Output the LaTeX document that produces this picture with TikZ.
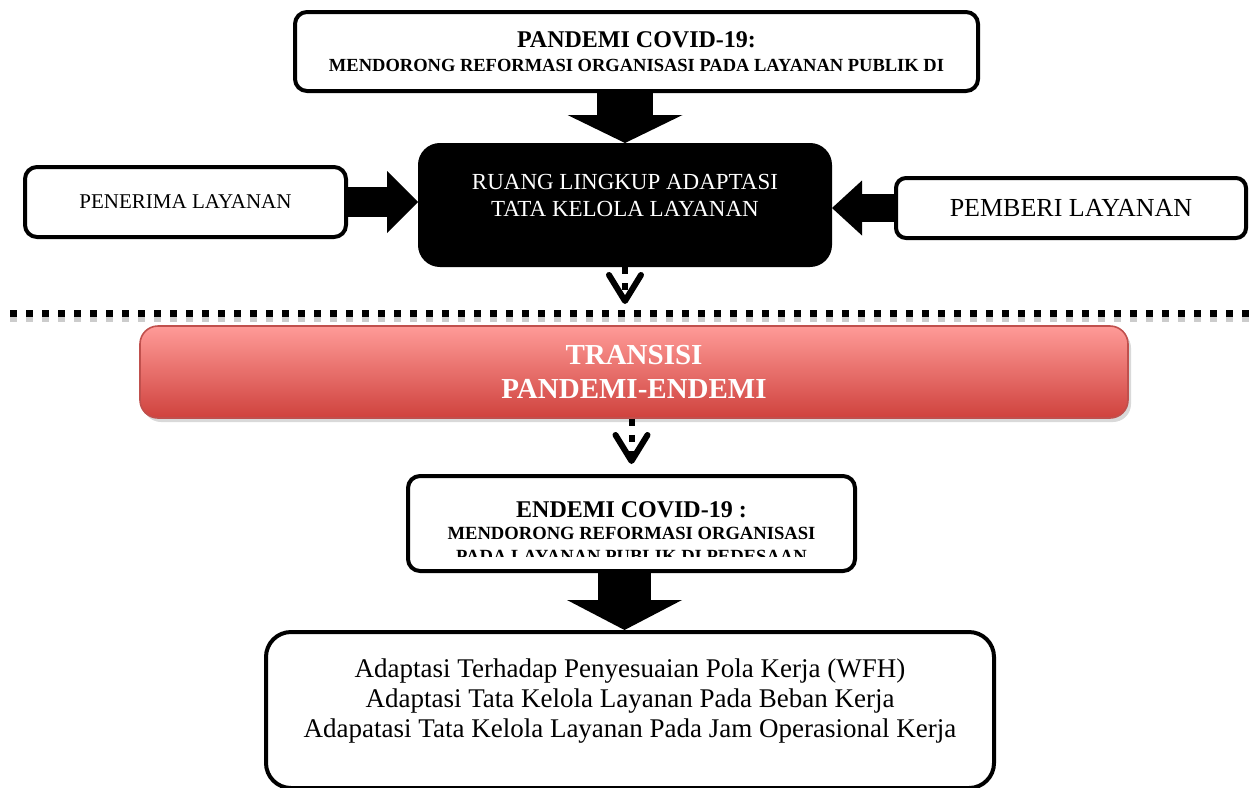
\documentclass[tikz,border=0pt]{standalone}
\usepackage{fontspec}
\setmainfont{Liberation Serif}
\usetikzlibrary{arrows.meta,shadows}

\definecolor{transtop}{RGB}{255,155,152}
\definecolor{transbot}{RGB}{207,66,61}
\definecolor{transline}{RGB}{192,80,77}

\begin{document}
\begin{tikzpicture}[
    x=0.5pt, y=-0.5pt,
    box/.style={draw, line width=2pt, rounded corners=6pt, fill=white, align=center, inner sep=0pt},
    bigarrow/.style n args={3}{line width=#1, -{Triangle[length=#3, width=#2, line width=0pt]}},
    dotarrow/.style={line width=3pt, dash pattern=on 3.5pt off 4.5pt, -{Straight Barb[length=13pt, width=16pt, line cap=round, line join=round]}},
    sepline/.style={line width=3.5pt, dash pattern=on 3.5pt off 4.5pt}
]
    \useasboundingbox (0,0) rectangle (1251,787);

    \node[box, minimum width=341.5pt, minimum height=39.5pt, font=\fontsize{12}{13}\selectfont\bfseries] (pandemi) at (636.5,51.5)
        {PANDEMI COVID-19:\\[-1pt]{\fontsize{9.25}{11}\selectfont MENDORONG REFORMASI ORGANISASI PADA LAYANAN PUBLIK DI}};
    \node[box, fill=black, draw=black, text=white, rounded corners=10pt, minimum width=205pt, minimum height=60pt, font=\fontsize{11.5}{13.5}\selectfont] (ruang) at (625,205)
        {RUANG LINGKUP ADAPTASI\\TATA KELOLA LAYANAN\\[-4pt]~};
    \node[box, minimum width=160.5pt, minimum height=35pt, font=\fontsize{10.5}{12}\selectfont] (penerima) at (185.5,202) {PENERIMA LAYANAN};
    \node[box, rounded corners=5pt, minimum width=175pt, minimum height=30pt, font=\fontsize{13}{15}\selectfont] (pemberi) at (1071,208) {PEMBERI LAYANAN};

    % garis pemisah pandemi / endemi
    \coordinate (sepL) at (10,313);
    \coordinate (sepR) at (1251,313);
    \coordinate (sepmid) at (625,304);
    \draw[sepline, black!20, transform canvas={yshift=-2.5pt}] (sepL) -- (sepR);
    \draw[sepline] (sepL) -- (sepR);

    \node[box, draw=transline, line width=0.8pt, top color=transtop, bottom color=transbot, rounded corners=9pt, text=white,
          minimum width=494pt, minimum height=46pt, font=\fontsize{14.5}{17}\selectfont\bfseries,
          drop shadow={shadow xshift=1.5pt, shadow yshift=-2pt, opacity=0.3}] (transisi) at (634,372)
        {TRANSISI\\PANDEMI-ENDEMI};

    \node[box, minimum width=223.5pt, minimum height=47.5pt] (endemi) at (631.5,523.5) {};
    \begin{scope}
        \clip (410,478) rectangle (853,556);
        \node[anchor=north, align=center, inner sep=0pt, font=\fontsize{9.3}{11.5}\selectfont\bfseries] (endemitext) at (631.5,501)
            {{\fontsize{12}{12}\selectfont ENDEMI COVID-19 :}\\[-0.5pt]MENDORONG REFORMASI ORGANISASI\\PADA LAYANAN PUBLIK DI PEDESAAN};
    \end{scope}

    \node[box, rounded corners=12.5pt, minimum width=364pt, minimum height=78pt, font=\fontsize{13.5}{15}\selectfont] (adaptasi) at (630,710)
        {Adaptasi Terhadap Penyesuaian Pola Kerja (WFH)\\Adaptasi Tata Kelola Layanan Pada Beban Kerja\\Adapatasi Tata Kelola Layanan Pada Jam Operasional Kerja\\[-3pt]~};

    \draw[bigarrow={28pt}{57.5pt}{14pt}] (pandemi.south -| ruang) -- (ruang.north);
    \draw[bigarrow={15pt}{31pt}{15.5pt}] (penerima.east) -- (penerima.east -| ruang.west);
    \draw[bigarrow={14pt}{27.5pt}{15pt}] (pemberi.west) -- (pemberi.west -| ruang.east);
    \draw[bigarrow={26.5pt}{57.5pt}{15pt}] ([xshift=-3.5pt]endemi.south) -- ([xshift=-3.5pt]endemi.south |- adaptasi.north);

    \draw[dotarrow] (ruang.south) -- (sepmid);
    \draw[dotarrow, shorten >=5pt] (transisi.south -| endemi) -- (endemi.north);
\end{tikzpicture}
\end{document}
